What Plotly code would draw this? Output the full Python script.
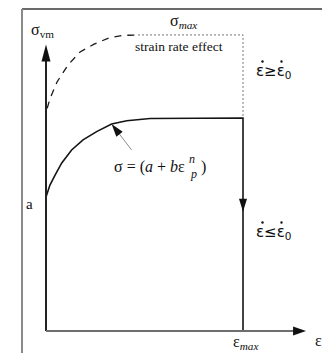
import math
import plotly.graph_objects as go

# Schematic of the Johnson-Cook type flow stress model (quasi-static vs. high strain rate)
# Strain is normalised so that the failure strain eps_max = 1, stress so that the
# quasi-static plateau = 1.

EPS_MAX = 1.0
SIG_A = 0.629          # initial yield stress "a"
SIG_PLATEAU = 1.0      # quasi-static saturation stress
SIG_MAX = 1.39         # saturation stress with strain rate effect

# quasi-static hardening curve  sigma = a + b*eps_p^n
eps_qs = [0.0, 0.020, 0.046, 0.080, 0.130, 0.188, 0.257, 0.333, 0.410, 0.528, 1.0]
sig_qs = [0.629, 0.685, 0.732, 0.789, 0.850, 0.897, 0.936, 0.972, 0.987, 0.998, 1.0]

# high strain-rate curve (dashed)
eps_dyn = [0.006, 0.020, 0.056, 0.112, 0.173, 0.244, 0.320, 0.391, 0.467]
sig_dyn = [1.045, 1.090, 1.169, 1.249, 1.310, 1.347, 1.376, 1.388, 1.39]

# axis extents (arrow tips)
EPS_AXIS_TIP = 1.32
SIG_AXIS_TIP = 1.345
SIG_DROP_ARROW = 0.56

SERIF = "Liberation Serif"
SANS = "DejaVu Sans"

fig = go.Figure()

# solid quasi-static curve, plateau and unloading drop at eps_max
fig.add_trace(go.Scatter(
    x=eps_qs + [EPS_MAX], y=sig_qs + [0.0],
    mode="lines", line=dict(color="#141414", width=1.6),
    hoverinfo="skip", showlegend=False))

# dashed strain-rate curve
fig.add_trace(go.Scatter(
    x=eps_dyn, y=sig_dyn, mode="lines",
    line=dict(color="#1a1a1a", width=1.3, dash="7px,6px"),
    hoverinfo="skip", showlegend=False))

# dotted saturation level and its vertical link
fig.add_trace(go.Scatter(
    x=[eps_dyn[-1], EPS_MAX, EPS_MAX], y=[SIG_MAX, SIG_MAX, SIG_PLATEAU],
    mode="lines", line=dict(color="#777777", width=1, dash="2px,2px"),
    hoverinfo="skip", showlegend=False))

shapes = []
# outer frame (top and left edges)
shapes.append(dict(type="line", xref="paper", yref="paper",
                   x0=22 / 322, x1=1.0, y0=1 - 9 / 353, y1=1 - 9 / 353,
                   line=dict(color="#3a3a3a", width=1.5)))
shapes.append(dict(type="line", xref="paper", yref="paper",
                   x0=22 / 322, x1=22 / 322, y0=0.0, y1=1 - 9 / 353,
                   line=dict(color="#8a8a8a", width=2)))

# stress axis with arrow
shapes.append(dict(type="line", xref="x", yref="y", x0=0, x1=0, y0=0, y1=SIG_AXIS_TIP - 0.03,
                   line=dict(color="#222222", width=2)))
shapes.append(dict(type="path", xref="x", yref="y", xsizemode="pixel", ysizemode="pixel",
                   xanchor=0, yanchor=SIG_AXIS_TIP,
                   path="M 0,0 L -4.5,-17 L 4.5,-17 Z",
                   fillcolor="#111111", line=dict(width=0)))

# strain axis with arrow
shapes.append(dict(type="line", xref="x", yref="y", x0=0, x1=EPS_AXIS_TIP - 0.03, y0=0, y1=0,
                   line=dict(color="#6e6e6e", width=2)))
shapes.append(dict(type="path", xref="x", yref="y", xsizemode="pixel", ysizemode="pixel",
                   xanchor=EPS_AXIS_TIP, yanchor=0,
                   path="M 0,0 L -13,4.5 L -13,-4.5 Z",
                   fillcolor="#111111", line=dict(width=0)))

# downward arrow on the unloading line
shapes.append(dict(type="path", xref="x", yref="y", xsizemode="pixel", ysizemode="pixel",
                   xanchor=EPS_MAX, yanchor=SIG_DROP_ARROW,
                   path="M 0,0 L -4,13 L 4,13 Z",
                   fillcolor="#111111", line=dict(width=0)))

# pointer from the equation to the hardening curve
tip_x, tip_y = eps_qs[7], sig_qs[7]
tail = (20.0, -26.0)                      # pixel offset of the tail, y up
L = math.hypot(*tail)
ux, uy = tail[0] / L, tail[1] / L
head_len, head_half = 13.0, 4.0
bx, by = ux * head_len, uy * head_len
px_, py_ = -uy * head_half, ux * head_half
shapes.append(dict(type="path", xref="x", yref="y", xsizemode="pixel", ysizemode="pixel",
                   xanchor=tip_x, yanchor=tip_y,
                   path=f"M {tail[0]},{tail[1]} L {bx:.2f},{by:.2f}",
                   line=dict(color="#8c8c8c", width=1)))
shapes.append(dict(type="path", xref="x", yref="y", xsizemode="pixel", ysizemode="pixel",
                   xanchor=tip_x, yanchor=tip_y,
                   path=(f"M 0,0 L {bx + px_:.2f},{by + py_:.2f} "
                         f"L {bx - px_:.2f},{by - py_:.2f} Z"),
                   fillcolor="#111111", line=dict(width=0)))


def X(px):
    return (px - 46) / 197.0


def Y(py):
    return (331 - py) / 213.0


def rate_dot(px, py):
    # the "dot" of a time derivative placed above an epsilon
    return dict(type="circle", xref="x", yref="y", xsizemode="pixel", ysizemode="pixel",
                xanchor=X(px), yanchor=Y(py), x0=-1.2, x1=1.2, y0=-1.2, y1=1.2,
                fillcolor="#111111", line=dict(width=0))


for dot_x in (262.5, 281.5):
    shapes.append(rate_dot(dot_x, 61.5))
    shapes.append(rate_dot(dot_x, 222.5))


def label(text, px, py, size, xanchor="center", color="#111111", family=SERIF):
    return dict(x=X(px), y=Y(py), xref="x", yref="y", text=text, showarrow=False,
                xanchor=xanchor, yanchor="middle",
                font=dict(family=family, size=size, color=color))


annotations = [
    label("σ<sub>vm</sub>", 42, 30, 16),
    label("σ<sub><i>max</i></sub>", 183, 21, 16),
    label("strain rate effect", 179, 46, 13.5),
    label("a", 29.5, 204, 15),
    label("σ = (<i>a</i> + <i>b</i>ε", 112, 167, 16, xanchor="left"),
    label("<i>n</i>", 191.5, 159, 12),
    label("<i>p</i>", 193, 174, 12),
    label(")", 203, 167, 16),
    # strain-rate conditions
    label("ε≥ε<sub>0</sub>", 273, 71, 15, family=SANS),
    label("ε≤ε<sub>0</sub>", 273, 232, 15, family=SANS),
    label("ε<sub><i>max</i></sub>", 245, 342, 16),
    label("ε", 318, 340, 16),
]

fig.update_layout(
    width=322, height=353,
    margin=dict(l=0, r=0, t=0, b=0),
    paper_bgcolor="white", plot_bgcolor="white",
    shapes=shapes, annotations=annotations,
    xaxis=dict(range=[X(0), X(322)], visible=False, fixedrange=True),
    yaxis=dict(range=[Y(353), Y(0)], visible=False, fixedrange=True),
    showlegend=False,
)

fig.write_html("out.html")
